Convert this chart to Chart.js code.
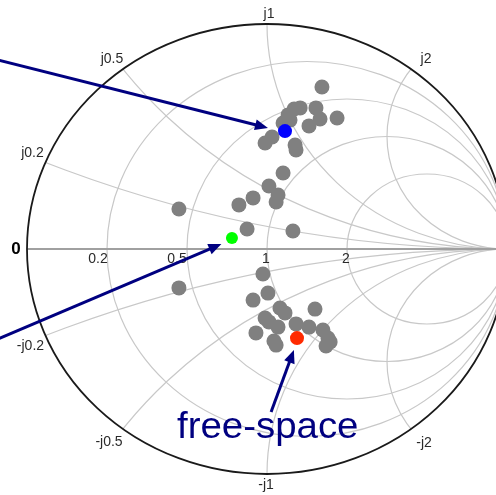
<!DOCTYPE html>
<html>
<head>
<meta charset="utf-8">
<script src="https://cdn.jsdelivr.net/npm/chart.js@4.4.0/dist/chart.umd.min.js"></script>
<style>
  html, body { margin: 0; padding: 0; background: #fff; }
  canvas { display: block; }
</style>
</head>
<body>
<canvas id="smith" width="496" height="495"></canvas>
<script>
// Measured reflection coefficients (real / imaginary part of Gamma)
const grayRe = [0.229, 0.113, 0.138, 0.204, 0.221, 0.292, 0.175, 0.088, 0.096, 0.067,
                0.021, -0.008, 0.117, 0.121, 0.067, 0.008, -0.058, 0.046, 0.038, 0.108,
                -0.083, -0.117, -0.367,
                -0.017, 0.004, -0.058, 0.054, 0.075, -0.008, 0.008, 0.046, 0.121, 0.175,
                0.200, 0.233, 0.254, 0.246, 0.263, -0.046, 0.029, 0.038, -0.367];
const grayIm = [0.720, 0.622, 0.627, 0.627, 0.578, 0.582, 0.547, 0.596, 0.573, 0.560,
                0.498, 0.471, 0.462, 0.440, 0.338, 0.280, 0.227, 0.240, 0.209, 0.080,
                0.089, 0.196, 0.178,
                -0.111, -0.196, -0.227, -0.262, -0.284, -0.307, -0.324, -0.347, -0.333, -0.347,
                -0.267, -0.360, -0.396, -0.431, -0.413, -0.373, -0.409, -0.427, -0.173];
const blueRe = [0.075], blueIm = [0.524];
const greenRe = [-0.146], greenIm = [0.049];
const redRe = [0.125], redIm = [-0.396];

// Smith chart grid values
const resistances = [0.2, 0.5, 1, 2];
const reactances = [0.2, 0.5, 1, 2];
const resistanceLabels = ["0", "0.2", "0.5", "1", "2"];
const reactanceLabels = ["j0.2", "j0.5", "j1", "j2", "-j0.2", "-j0.5", "-j1", "-j2"];

// Annotation arrows: [tailRe, tailIm, tipRe, tipIm]
const arrows = [
  [-1.12, 0.84, 0.004, 0.538],
  [-1.12, -0.40, -0.19, 0.022],
  [0.017, -0.724, 0.112, -0.449]
];
const calloutText = "free-space";
const calloutAt = [-0.375, -0.84];

const toPoints = (re, im) => re.map((u, i) => ({ x: u, y: im[i] }));

// pixel nudges for the grid labels
const resLabelPos = [
  { r: 0, dx: -11, dy: 0 }, { r: 0.2, dx: -9, dy: 10 }, { r: 0.5, dx: -10, dy: 10 },
  { r: 1, dx: -1, dy: 10 }, { r: 2, dx: -1, dy: 10 }
];
const reactLabelPos = [
  { x: 0.2, dx: -13, dy: -9 }, { x: 0.5, dx: -11, dy: -10 }, { x: 1, dx: 2, dy: -10 },
  { x: 2, dx: 15, dy: -10 }, { x: -0.2, dx: -15, dy: 11 }, { x: -0.5, dx: -14, dy: 13 },
  { x: -1, dx: -1, dy: 11 }, { x: -2, dx: 13, dy: 14 }
];

const smithGrid = {
  id: "smithGrid",
  beforeDatasetsDraw(chart) {
    const { ctx, scales: { x, y } } = chart;
    const px = u => x.getPixelForValue(u);
    const py = v => y.getPixelForValue(v);
    const sx = px(1) - px(0), sy = py(0) - py(1);
    const ellipse = (cu, cv, r) => {
      ctx.beginPath();
      ctx.ellipse(px(cu), py(cv), r * sx, r * sy, 0, 0, Math.PI * 2);
    };

    ctx.save();
    ellipse(0, 0, 1);
    ctx.clip();
    ctx.strokeStyle = "#c8c8c8";
    ctx.lineWidth = 1.2;
    resistances.forEach(r => { ellipse(r / (1 + r), 0, 1 / (1 + r)); ctx.stroke(); });
    reactances.forEach(xv => {
      [xv, -xv].forEach(s => { ellipse(1, 1 / s, 1 / Math.abs(s)); ctx.stroke(); });
    });
    ctx.restore();

    // real axis
    ctx.save();
    ctx.strokeStyle = "#a0a0a0";
    ctx.lineWidth = 2;
    ctx.beginPath();
    ctx.moveTo(px(-1), py(0));
    ctx.lineTo(chart.width, py(0));
    ctx.stroke();

    // unit circle
    ellipse(0, 0, 1);
    ctx.strokeStyle = "#1a1a1a";
    ctx.lineWidth = 1.8;
    ctx.stroke();

    // labels
    ctx.textAlign = "center";
    ctx.textBaseline = "middle";
    resistanceLabels.forEach((t, i) => {
      const p = resLabelPos[i];
      const g = (p.r - 1) / (p.r + 1);
      ctx.font = i === 0 ? "bold 17px 'Liberation Sans', Arial, sans-serif"
                         : "14px 'Liberation Sans', Arial, sans-serif";
      ctx.fillStyle = i === 0 ? "#000" : "#2a2a2a";
      ctx.fillText(t, px(g) + p.dx, py(0) + p.dy);
    });
    ctx.font = "14px 'Liberation Sans', Arial, sans-serif";
    ctx.fillStyle = "#2a2a2a";
    reactanceLabels.forEach((t, i) => {
      const p = reactLabelPos[i];
      const d = p.x * p.x + 1;
      const gu = (p.x * p.x - 1) / d, gv = 2 * p.x / d;
      ctx.fillText(t, px(gu) + p.dx, py(gv) + p.dy);
    });
    ctx.restore();
  },
  afterDatasetsDraw(chart) {
    const { ctx, scales: { x, y } } = chart;
    const px = u => x.getPixelForValue(u);
    const py = v => y.getPixelForValue(v);
    ctx.save();
    ctx.strokeStyle = "#000080";
    ctx.fillStyle = "#000080";
    ctx.lineWidth = 3;
    arrows.forEach(([u0, v0, u1, v1]) => {
      const x0 = px(u0), y0 = py(v0), x1 = px(u1), y1 = py(v1);
      const a = Math.atan2(y1 - y0, x1 - x0);
      const L = 13, W = 5.5;
      const bx = x1 - L * Math.cos(a), by = y1 - L * Math.sin(a);
      ctx.beginPath();
      ctx.moveTo(x0, y0);
      ctx.lineTo(bx + 2 * Math.cos(a), by + 2 * Math.sin(a));
      ctx.stroke();
      ctx.beginPath();
      ctx.moveTo(x1, y1);
      ctx.lineTo(bx - W * Math.sin(a), by + W * Math.cos(a));
      ctx.lineTo(bx + W * Math.sin(a), by - W * Math.cos(a));
      ctx.closePath();
      ctx.fill();
    });

    ctx.translate(px(calloutAt[0]), py(calloutAt[1]));
    ctx.scale(1.067, 1);
    ctx.font = "36px 'Liberation Sans', Arial, sans-serif";
    ctx.textBaseline = "alphabetic";
    ctx.fillText(calloutText, 0, 0);
    ctx.restore();
  }
};

new Chart(document.getElementById("smith"), {
  type: "scatter",
  data: {
    datasets: [
      { data: toPoints(blueRe, blueIm), backgroundColor: "#0000ff", pointRadius: 7 },
      { data: toPoints(greenRe, greenIm), backgroundColor: "#00ff00", pointRadius: 6 },
      { data: toPoints(redRe, redIm), backgroundColor: "#ff2a00", pointRadius: 7 },
      { data: toPoints(grayRe, grayIm), backgroundColor: "#808080", pointRadius: 7.5 }
    ]
  },
  options: {
    responsive: false,
    animation: false,
    layout: { padding: 0, autoPadding: false },
    elements: { point: { borderWidth: 0, hoverRadius: 7.5 } },
    plugins: { legend: { display: false }, tooltip: { enabled: false } },
    scales: {
      x: { type: "linear", min: -1.1125, max: 0.95417, display: false },
      y: { type: "linear", min: -1.09333, max: 1.10667, display: false }
    }
  },
  plugins: [smithGrid]
});
</script>
</body>
</html>
